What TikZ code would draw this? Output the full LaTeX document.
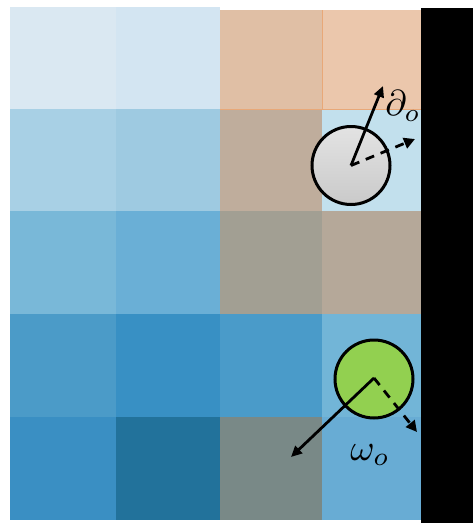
\documentclass[tikz,border=0pt]{standalone}
\usetikzlibrary{arrows.meta}
\definecolor{kA}{HTML}{DAE8F2}\definecolor{kB}{HTML}{D3E5F2}\definecolor{kC}{HTML}{E0BFA5}\definecolor{kD}{HTML}{EBC7AC}
\definecolor{kE}{HTML}{A8D0E5}\definecolor{kF}{HTML}{9ECAE1}\definecolor{kG}{HTML}{BFAD9C}\definecolor{kH}{HTML}{C2E0ED}
\definecolor{kI}{HTML}{79B8D8}\definecolor{kJ}{HTML}{6AAFD6}\definecolor{kK}{HTML}{A29F93}\definecolor{kL}{HTML}{B5A899}
\definecolor{kM}{HTML}{4B9BC8}\definecolor{kN}{HTML}{3890C4}\definecolor{kO}{HTML}{4A9BC9}\definecolor{kP}{HTML}{72B5D7}
\definecolor{kQ}{HTML}{3A8FC3}\definecolor{kR}{HTML}{22729B}\definecolor{kS}{HTML}{798987}\definecolor{kT}{HTML}{68ACD4}
\definecolor{ballgreen}{HTML}{92D050}
\definecolor{edgeorange}{HTML}{E8A878}
\tikzset{
  ball/.style={circle, draw=black, line width=3pt, minimum size=78pt, inner sep=0pt},
  vec/.style={line width=2.8pt, -{Triangle[length=11pt,width=10pt]}},
  dvec/.style={line width=2.8pt, dash pattern=on 9pt off 7pt, -{Triangle[length=11pt,width=11pt]}},
  lab/.style={inner sep=0pt}
}
\begin{document}
\begin{tikzpicture}[x=1pt,y=-1pt]
\useasboundingbox (0,0) rectangle (473,523);
% grid cells
\fill[kA] (10,7) rectangle (116,109);
\fill[kB] (116,7) rectangle (220,109);
\fill[kC] (220,10) rectangle (322,109);
\fill[kD] (322,10) rectangle (421,109);
\fill[kE] (10,109) rectangle (116,211);
\fill[kF] (116,109) rectangle (220,211);
\fill[kG] (220,109) rectangle (322,211);
\fill[kH] (322,109) rectangle (421,211);
\fill[kI] (10,211) rectangle (116,314);
\fill[kJ] (116,211) rectangle (220,314);
\fill[kK] (220,211) rectangle (322,314);
\fill[kL] (322,211) rectangle (421,314);
\fill[kM] (10,314) rectangle (116,417);
\fill[kN] (116,314) rectangle (220,417);
\fill[kO] (220,314) rectangle (322,417);
\fill[kP] (322,314) rectangle (421,417);
\fill[kQ] (10,417) rectangle (116,520);
\fill[kR] (116,417) rectangle (220,520);
\fill[kS] (220,417) rectangle (322,520);
\fill[kT] (322,417) rectangle (421,520);
\draw[edgeorange, line width=0.6pt] (322,10) -- (322,109);
\draw[edgeorange, line width=0.6pt] (220,109) -- (421,109);
% black wall
\fill[black] (421,8) rectangle (473,523);
% gray ball
\node[ball, top color=gray!22, bottom color=gray!42] (g) at (351,165.5) {};
\coordinate (gc) at (351,165.5);
\coordinate (gt) at (383,86);
\coordinate (gd) at (415,139);
\draw[vec] (gc) -- (gt);
\draw[dvec] (gc) -- (gd);
\node[lab] (gl) at (403,106) {\scalebox{3.6}{$\partial_o$}};
% green ball
\node[ball, fill=ballgreen] (b) at (374,379) {};
\coordinate (bc) at (374,378);
\coordinate (bt) at (291,457);
\coordinate (bd) at (417,432);
\draw[vec] (bc) -- (bt);
\draw[dvec] (bc) -- (bd);
\node[lab] (bl) at (370,455) {\scalebox{3.7}{$\omega_o$}};
\end{tikzpicture}
\end{document}
